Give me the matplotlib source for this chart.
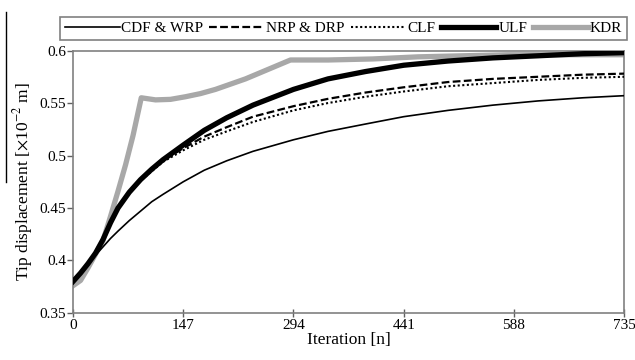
import matplotlib
matplotlib.use("Agg")
import matplotlib.pyplot as plt
from matplotlib.lines import Line2D

plt.rcParams["font.family"] = ["Liberation Serif", "DejaVu Serif"]
plt.rcParams["mathtext.fontset"] = "stix"

# iteration grid shared by the four smooth curves
iters = [0, 10, 20, 30, 40, 50, 60, 75, 90, 105, 120, 147, 175, 205, 240,
         294, 340, 390, 441, 500, 560, 620, 680, 735]

cdf_wrp = [0.379, 0.387, 0.396, 0.405, 0.413, 0.421, 0.428, 0.438, 0.447, 0.456,
           0.463, 0.475, 0.486, 0.495, 0.504, 0.515, 0.523, 0.530, 0.537, 0.543,
           0.548, 0.552, 0.555, 0.557]
ulf = [0.380, 0.388, 0.397, 0.407, 0.420, 0.436, 0.450, 0.465, 0.477, 0.487,
       0.496, 0.510, 0.524, 0.536, 0.548, 0.563, 0.573, 0.580, 0.586, 0.590,
       0.593, 0.595, 0.597, 0.598]
nrp_drp = [0.380, 0.388, 0.397, 0.407, 0.420, 0.435, 0.449, 0.464, 0.476, 0.486,
           0.495, 0.507, 0.518, 0.527, 0.537, 0.547, 0.554, 0.560, 0.565, 0.570,
           0.573, 0.575, 0.577, 0.578]
clf = [0.380, 0.388, 0.397, 0.407, 0.420, 0.435, 0.449, 0.464, 0.476, 0.485,
       0.494, 0.505, 0.515, 0.523, 0.532, 0.543, 0.550, 0.556, 0.561, 0.566,
       0.569, 0.572, 0.574, 0.575]

# KDR has its own breakpoints (sharp corner near n=91)
kdr_iters = [0, 10, 20, 30, 40, 50, 60, 70, 80, 91, 110, 130, 150, 170, 190,
             210, 230, 250, 270, 290, 340, 400, 460, 520, 580, 640, 735]
kdr = [0.376, 0.381, 0.393, 0.406, 0.419, 0.442, 0.466, 0.491, 0.519, 0.555,
       0.553, 0.5535, 0.556, 0.559, 0.563, 0.568, 0.573, 0.579, 0.585, 0.591,
       0.591, 0.592, 0.594, 0.595, 0.596, 0.596, 0.596]

x_ticks = [0, 147, 294, 441, 588, 735]
y_ticks = [0.35, 0.4, 0.45, 0.5, 0.55, 0.6]

fig = plt.figure(figsize=(6.35, 3.6), dpi=100)
ax = fig.add_axes([0.115, 0.1306, 0.868, 0.729])

h_cdf, = ax.plot(iters, cdf_wrp, color="black", lw=1.2, label="CDF & WRP", zorder=3)
h_nrp, = ax.plot(iters, nrp_drp, color="black", lw=1.6, ls=(0, (3.5, 1.5)), label="NRP & DRP", zorder=3)
h_clf, = ax.plot(iters, clf, color="black", lw=1.5, ls=(0, (1, 1.2)), label="CLF", zorder=3)
h_kdr, = ax.plot(kdr_iters, kdr, color="#a8a8a8", lw=3.8, label="KDR", zorder=2)
h_ulf, = ax.plot(iters, ulf, color="black", lw=3.8, label="ULF", zorder=4)

ax.set_xlim(0, 735)
ax.set_ylim(0.35, 0.6)
ax.set_xticks(x_ticks)
ax.set_yticks(y_ticks)
ax.set_xticklabels([str(t) for t in x_ticks])
ax.set_yticklabels(["0.35", "0.4", "0.45", "0.5", "0.55", "0.6"])
ax.tick_params(axis="x", direction="inout", length=6, width=1, color="#606060",
               labelsize=11, pad=1)
ax.tick_params(axis="y", direction="out", length=4, width=1, color="#606060",
               labelsize=11, pad=1)
for sp in ax.spines.values():
    sp.set_color("#808080")
    sp.set_linewidth(1.2)

ax.set_xlabel("Iteration [n]", fontsize=12.5, labelpad=0)
ax.set_ylabel(r"Tip displacement [$\times$10$^{-2}$ m]", fontsize=12.5, labelpad=3)

leg = fig.legend(handles=[h_cdf, h_nrp, h_clf, h_ulf, h_kdr],
                 labels=["CDF & WRP", "NRP & DRP", "CLF", "ULF", "KDR"],
                 loc="lower left", bbox_to_anchor=(0.0945, 0.889, 0.8925, 0.075),
                 mode="expand", ncol=5, fontsize=11, handlelength=3.6,
                 handletextpad=0.12, columnspacing=0.0, borderaxespad=0,
                 borderpad=0.3, fancybox=False, framealpha=1)
leg.get_frame().set_edgecolor("#808080")
leg.get_frame().set_linewidth(1.2)

# stray rule at the far left of the scanned figure
fig.add_artist(Line2D([5.5 / 635, 5.5 / 635], [1 - 12 / 360, 1 - 182 / 360],
                      color="black", lw=1))

fig.savefig("out.png", dpi=100)
